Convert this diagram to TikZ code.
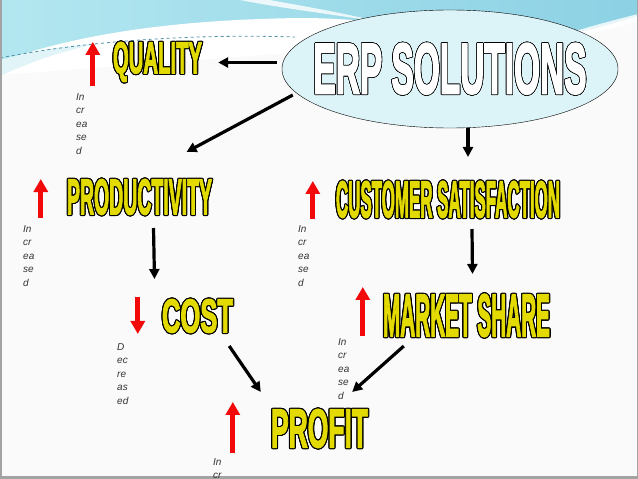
\documentclass[tikz,border=0pt]{standalone}
\usepackage{fontspec}
\setmainfont{Liberation Sans}
\newfontfamily\heavyfont[FakeBold=3]{Liberation Sans Bold}
\usepackage{graphicx}
\usepackage[copies]{contour}
\usetikzlibrary{arrows.meta,positioning,shapes.geometric}

\definecolor{slidebg}{HTML}{FAFAFA}
\definecolor{skylight}{HTML}{B3E7F0}
\definecolor{skydeep}{HTML}{8CD1E4}
\definecolor{erpfill}{HTML}{DCF3F8}
\definecolor{wordyellow}{HTML}{E2DA00}
\definecolor{upred}{HTML}{F20A0A}
\definecolor{notegray}{HTML}{333333}
\definecolor{framegray}{HTML}{A3A3A3}
\definecolor{wavedash}{HTML}{4F8FA6}

% outlined, squeezed headline word: width, height, text
\newcommand{\bigword}[3]{\contour{black}{\resizebox{#1pt}{#2pt}{\heavyfont #3}}}

\begin{document}
\begin{tikzpicture}[
  % --- global style ---
  x=1pt, y=-1pt,
  word/.style={inner sep=0pt, text=wordyellow},
  note/.style={anchor=north west, inner sep=0pt, align=left,
    font=\fontsize{10}{13.5}\selectfont\itshape, text=notegray},
  arr/.style={-{Triangle[width=10pt,length=10pt]}, line width=3.2pt},
  redarr/.style={-{Triangle[width=14pt,length=13pt]}, line width=5pt, draw=upred},
]
\useasboundingbox (0,0) rectangle (638,479);

% ====== Slide background ======
\fill[slidebg] (0,0) rectangle (638,479);
\shade[left color=skylight, right color=skydeep]
  (0,0) -- (638,0) -- (638,16) .. controls (600,28) and (570,34) .. (540,40)
  -- (300,40) .. controls (200,18) and (90,30) .. (0,62) -- cycle;
\fill[white] (0,62) .. controls (60,40) and (150,20) .. (300,18)
  .. controls (360,18) and (420,26) .. (460,40) -- (0,75) -- cycle;
\fill[white!60!skylight] (0,60) .. controls (30,52) and (60,46) .. (95,44)
  .. controls (60,52) and (30,62) .. (0,76) -- cycle;
\fill[white, opacity=0.8] (240,0) .. controls (280,8) and (330,14) .. (380,22)
  .. controls (330,10) and (290,4) .. (270,0) -- cycle;
\fill[white, opacity=0.8] (560,36) .. controls (590,26) and (615,20) .. (638,14)
  -- (638,22) .. controls (612,28) and (590,34) .. (570,40) -- cycle;
\draw[wavedash, dashed, line width=0.8pt]
  (0,58) .. controls (90,40) and (200,34) .. (295,37);
\draw[framegray, line width=1.5pt] (0.75,0) -- (0.75,479);
\draw[framegray, line width=1.5pt] (637.25,0) -- (637.25,479);
\draw[framegray, line width=3pt] (0,477.5) -- (638,477.5);

% ====== Central idea ======
\node[ellipse, draw, thin, fill=erpfill, minimum width=336pt, minimum height=118pt,
  inner sep=0pt, text=white] (erp) at (450,69)
  {\makebox[0pt]{\contourlength{0.6pt}\bigword{273}{50}{ERP SOLUTIONS}}};

% ====== Effects ======
\contourlength{1.1pt}
\node[word] (quality)      at (157.5,62.5) {\bigword{89}{31}{QUALITY}};
\node[word] (productivity) at (139.5,197.5) {\bigword{145}{35}{PRODUCTIVITY}};
\node[word] (customer)     at (448,200)   {\bigword{224}{36}{CUSTOMER SATISFACTION}};
\node[word] (cost)         at (197.5,316.5) {\bigword{71}{33}{COST}};
\node[word] (market)       at (466.5,316) {\bigword{167}{42}{MARKET SHARE}};
\node[word] (profit)       at (319.5,429) {\bigword{97}{38}{PROFIT}};

% --- up / down markers ---
\draw[redarr] ([xshift=-20pt,yshift=-3pt]quality.south west) -- ([xshift=-20pt]quality.north west);
\draw[redarr] ([xshift=-26pt,yshift=-2pt]productivity.south west) -- ([xshift=-26pt]productivity.north west);
\draw[redarr] ([xshift=-23pt]customer.south west) -- ([xshift=-23pt]customer.north west);
\draw[redarr] ([xshift=-24pt,yshift=2pt]cost.north west) -- ([xshift=-24pt]cost.south west);
\draw[redarr] ([xshift=-20pt,yshift=2pt]market.south west) -- ([xshift=-20pt,yshift=7pt]market.north west);
\draw[redarr] ([xshift=-38pt,yshift=-4pt]profit.south west) -- ([xshift=-38pt,yshift=7pt]profit.north west);

% --- small notes ---
\node[note] (qualitynote)  at (76,93)   {In\\cr\\ea\\se\\d};
\node[note] (prodnote)     at (23,225)  {In\\cr\\ea\\se\\d};
\node[note] (custnote)     at (298,225) {In\\cr\\ea\\se\\d};
\node[note] (costnote)     at (117,343) {D\\ec\\re\\as\\ed};
\node[note] (marketnote)   at (338,338) {In\\cr\\ea\\se\\d};
\node[note] (profitnote)   at (213,458) {In\\cr};

% ====== Arrows ======
\draw[arr] ([xshift=-5pt]erp.west |- quality.east) -- ([xshift=16pt]quality.east);
\draw[arr] ([xshift=11pt,yshift=-26pt]erp.west) -- ([xshift=47pt,yshift=27pt]productivity.north);
\draw[arr] ([xshift=18pt]erp.south) -- ([xshift=20pt,yshift=24pt]customer.north);
\draw[arr] ([xshift=14pt,yshift=-12pt]productivity.south) -- ([xshift=-43pt,yshift=20pt]cost.north);
\draw[arr] ([xshift=24pt,yshift=-10pt]customer.south) -- ([xshift=6pt,yshift=20pt]market.north);
\draw[arr] ([xshift=-4pt,yshift=-12pt]cost.south east) -- ([xshift=-10pt,yshift=17pt]profit.north west);
\draw[arr] ([xshift=21pt,yshift=-8pt]market.south west) -- ([xshift=-16pt,yshift=17pt]profit.north east);

\end{tikzpicture}
\end{document}
